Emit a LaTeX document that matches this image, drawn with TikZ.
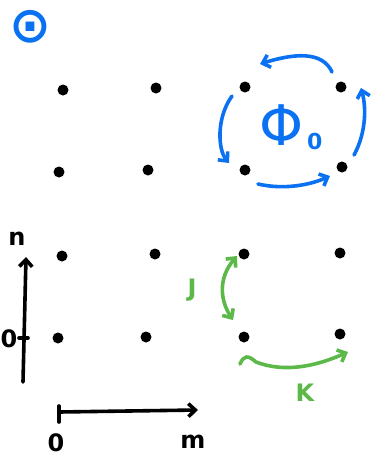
\documentclass[tikz,border=0pt]{standalone}
\usepackage{fontspec}
\setmainfont{DejaVu Sans}
\usepackage{xcolor}
\usepackage{tikz}
\usetikzlibrary{arrows.meta}
\definecolor{FluxBlue}{HTML}{0A72F2}
\definecolor{HopGreen}{HTML}{5CB848}
\tikzset{
  site/.style={circle,fill=black,inner sep=0pt,minimum size=11pt},
  fluxarrow/.style={FluxBlue,line width=3.6pt,line cap=round,-{Straight Barb[length=7pt,width=13pt]}},
  hoparrow/.style={HopGreen,line width=3.6pt,line cap=round},
  axisarrow/.style={black,line width=3.6pt,line cap=round,-{Straight Barb[length=7pt,width=13pt]}},
  hand/.style={inner sep=0pt,font=\bfseries\fontsize{24}{24}\selectfont}
}

\begin{document}
\begin{tikzpicture}[x=1pt,y=-1pt]
\path[use as bounding box] (0,0) rectangle (375,459);
% panel mark
\node[FluxBlue,inner sep=0pt,font=\bfseries\fontsize{50}{50}\selectfont] (mark) at (30,27) {⊙};
% upper lattice
\node[site] (u11) at (63,90) {};
\node[site] (u12) at (156,88) {};
\node[site] (u13) at (245,87) {};
\node[site] (u14) at (341,87) {};
\node[site] (u21) at (59,172) {};
\node[site] (u22) at (148,170) {};
\node[site] (u23) at (245,170) {};
\node[site] (u24) at (342,167) {};
% flux around the plaquette
\coordinate (ft0) at (332,72);  \coordinate (ft1) at (260,64);
\coordinate (fl0) at (232,96);  \coordinate (fl1) at (229,163);
\coordinate (fb0) at (258,184); \coordinate (fb1) at (330,176);
\coordinate (fr0) at (354,155); \coordinate (fr1) at (361,88);
\draw[fluxarrow] (ft0) .. controls (322,50) and (292,54) .. (ft1);
\draw[fluxarrow] (fl0) .. controls (216,118) and (218,150) .. (fl1);
\draw[fluxarrow] (fb0) .. controls (284,190) and (310,185) .. (fb1);
\draw[fluxarrow] (fr0) .. controls (365,135) and (367,110) .. (fr1);
\node[FluxBlue,inner sep=0pt,font=\fontsize{56}{56}\selectfont] (phi) at (282,125) {Φ};
\node[FluxBlue,inner sep=0pt,font=\bfseries\fontsize{22}{22}\selectfont,anchor=west] (phisub) at (307,141) {0};
% lower lattice
\node[site] (l11) at (62,256) {};
\node[site] (l12) at (155,254) {};
\node[site] (l13) at (244,254) {};
\node[site] (l14) at (340,253) {};
\node[site] (l21) at (58,338) {};
\node[site] (l22) at (146,337) {};
\node[site] (l23) at (244,337) {};
\node[site] (l24) at (340,334) {};
% couplings
\coordinate (j0) at (237,256); \coordinate (j1) at (233,320);
\draw[hoparrow,{Straight Barb[length=7pt,width=13pt]}-{Straight Barb[length=7pt,width=13pt]}] (j0) .. controls (218,278) and (220,300) .. (j1);
\node[HopGreen,hand] (jlab) at (192,290) {J};
\coordinate (k0) at (240,364); \coordinate (k1) at (348,352);
\draw[hoparrow,-{Straight Barb[length=7pt,width=13pt]}] (k0) .. controls (244,355) and (248,355) .. (256,362) .. controls (282,372) and (312,368) .. (k1);
\node[HopGreen,hand] (klab) at (305,393) {K};
% axes
\coordinate (n0) at (23,382); \coordinate (n1) at (26,257);
\draw[axisarrow] (n0) -- (n1);
\draw[line width=3.6pt,line cap=round] (19,338) -- (28,338);
\node[hand] (nlab) at (17,239) {n};
\node[hand] (nzero) at (9,339) {0};
\coordinate (m0) at (59,412); \coordinate (m1) at (198,410);
\draw[axisarrow] (m0) -- (m1);
\draw[line width=3.6pt,line cap=round] (59,406) -- (59,422);
\node[hand] (mlab) at (193,442) {m};
\node[hand] (mzero) at (56,443) {0};
\end{tikzpicture}
\end{document}
